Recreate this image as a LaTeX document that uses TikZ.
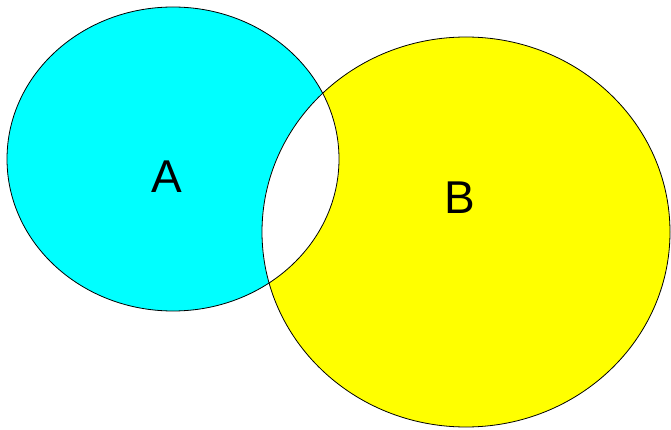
\documentclass[tikz,border=0pt]{standalone}
\usepackage{fontspec}
\setmainfont{Liberation Sans}
\definecolor{setcyan}{RGB}{0,255,255}
\definecolor{setyellow}{RGB}{255,255,0}
\begin{document}
\begin{tikzpicture}[x=1pt,y=-1pt]
  \useasboundingbox (0,0) rectangle (671,430);
  % the two sets
  \fill[setcyan] (173,159) ellipse [x radius=166, y radius=152];
  \fill[setyellow] (466,232) ellipse [x radius=204, y radius=195];
  \begin{scope}
    \clip (173,159) ellipse [x radius=166, y radius=152];
    \fill[white] (466,232) ellipse [x radius=204, y radius=195];
  \end{scope}
  \draw[line width=.8pt] (173,159) ellipse [x radius=166, y radius=152];
  \draw[line width=.8pt] (466,232) ellipse [x radius=204, y radius=195];
  \node[font=\fontsize{46}{50}\selectfont] (setA) at (167,177) {A};
  \node[font=\fontsize{46}{50}\selectfont] (setB) at (460,198) {B};
\end{tikzpicture}
\end{document}
